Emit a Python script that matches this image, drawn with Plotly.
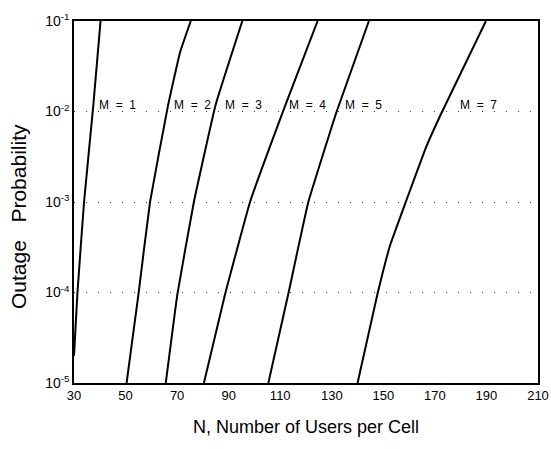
import plotly.graph_objects as go

# ---- data ----
m1_n = [30.0, 31.3, 33.9, 37.5, 40.3]
m1_logp = [-4.7, -4.02, -3.0, -1.93, -1.0]

m2_n = [50.4, 55.0, 59.5, 66.5, 71.1, 75.3]
m2_logp = [-5.0, -4.02, -3.0, -1.93, -1.35, -1.0]

m3_n = [65.6, 70.1, 76.5, 84.9, 95.3]
m3_logp = [-5.0, -4.02, -3.0, -1.93, -1.0]

m4_n = [80.4, 88.6, 98.3, 112.0, 124.5]
m4_logp = [-5.0, -4.02, -3.0, -1.93, -1.0]

m5_n = [105.4, 113.1, 120.9, 131.9, 144.4]
m5_logp = [-5.0, -4.02, -3.0, -2.0, -1.0]

m7_n = [140.0, 147.7, 152.6, 158.7, 166.5, 172.0, 189.8]
m7_logp = [-5.0, -4.02, -3.48, -3.0, -2.4, -2.05, -1.0]

series = [
    ("M = 1", m1_n, m1_logp, 38.9),
    ("M = 2", m2_n, m2_logp, 67.9),
    ("M = 3", m3_n, m3_logp, 87.7),
    ("M = 4", m4_n, m4_logp, 112.6),
    ("M = 5", m5_n, m5_logp, 134.5),
    ("M = 7", m7_n, m7_logp, 179.1),
]
label_logp = -1.93

x_ticks = [30, 50, 70, 90, 110, 130, 150, 170, 190, 210]
y_tick_exps = [-1, -2, -3, -4, -5]

FONT = "Liberation Sans, Arial, sans-serif"

fig = go.Figure()
for name, n, lp, lx in series:
    fig.add_trace(go.Scatter(
        x=n, y=[10 ** v for v in lp], mode="lines", name=name,
        line=dict(color="black", width=2, shape="spline", smoothing=0.3),
        showlegend=False, hoverinfo="skip",
    ))
    fig.add_annotation(
        x=lx, y=label_logp, xref="x", yref="y",
        text=name.replace(" ", "&nbsp;&nbsp;"), showarrow=False,
        xanchor="left", yanchor="middle",
        font=dict(family=FONT, size=12, color="black"),
    )

fig.add_annotation(
    xref="paper", yref="paper", x=-0.121, y=0.461,
    text="Outage&nbsp;&nbsp;&nbsp;Probability", textangle=-90, showarrow=False,
    xanchor="center", yanchor="middle",
    font=dict(family=FONT, size=21, color="black"),
)

fig.update_xaxes(
    range=[30, 210], tickvals=x_ticks, ticktext=[str(v) for v in x_ticks],
    showgrid=False, zeroline=False, showline=True, mirror=True,
    linecolor="black", linewidth=1.5, ticks="", automargin=False,
    tickfont=dict(family=FONT, size=13, color="black"),
    title=dict(text="N, Number of Users per Cell",
               font=dict(family=FONT, size=18, color="black"), standoff=18),
)
fig.update_yaxes(
    type="log", range=[-5, -1],
    tickvals=[10 ** e for e in y_tick_exps],
    ticktext=[f"10<sup>{e}</sup>" for e in y_tick_exps],
    showgrid=True, gridcolor="#333333", gridwidth=1, griddash="1px,11px",
    zeroline=False, showline=True, mirror=True, automargin=False,
    linecolor="black", linewidth=1.5, ticks="",
    tickfont=dict(family=FONT, size=14, color="black"),
)

fig.update_layout(
    width=551, height=449,
    margin=dict(l=74, r=13, t=21, b=66),
    paper_bgcolor="white", plot_bgcolor="white",
)

fig.write_html(
    "out.html",
    config={"displayModeBar": False},
    post_script="document.body.style.margin='0px';document.body.style.overflow='hidden';",
)
